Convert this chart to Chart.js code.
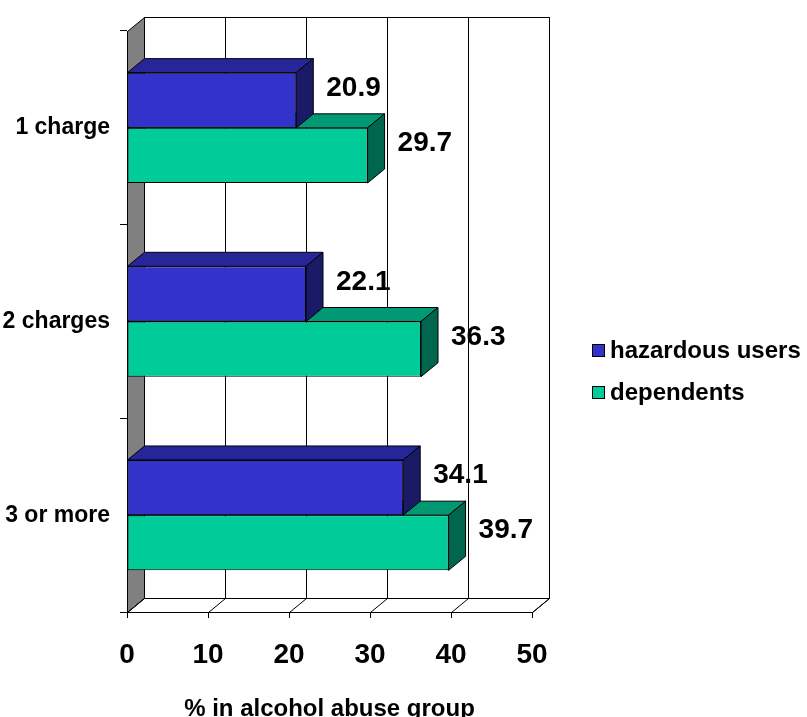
<!DOCTYPE html>
<html>
<head>
<meta charset="utf-8">
<script src="https://cdn.jsdelivr.net/npm/chart.js@4/dist/chart.umd.min.js"></script>
<style>
  html, body { margin: 0; padding: 0; background: #ffffff; }
  #wrap { width: 807px; height: 717px; }
</style>
</head>
<body>
<div id="wrap"><canvas id="chart" width="807" height="717"></canvas></div>
<script>
// Values
const categories = ['1 charge', '2 charges', '3 or more'];
const hazardousUsers = [20.9, 22.1, 34.1];
const dependents = [29.7, 36.3, 39.7];
const seriesNames = ['hazardous users', 'dependents'];
const xTickValues = [0, 10, 20, 30, 40, 50];
const axisTitle = '% in alcohol abuse group';

const FONT = "'Liberation Sans', Arial, Helvetica, sans-serif";
const DX = 17;   // depth offset to the right
const DY = 14;   // depth offset upwards

function crisp(v) { return Math.round(v) + 0.5; }

function poly(ctx, pts, fill) {
  ctx.beginPath();
  ctx.moveTo(pts[0][0], pts[0][1]);
  for (let i = 1; i < pts.length; i++) ctx.lineTo(pts[i][0], pts[i][1]);
  ctx.closePath();
  if (fill) { ctx.fillStyle = fill; ctx.fill(); }
  ctx.stroke();
}

function line(ctx, x1, y1, x2, y2) {
  ctx.beginPath();
  ctx.moveTo(x1, y1);
  ctx.lineTo(x2, y2);
  ctx.stroke();
}

// Walls, floor and back-wall gridlines of the 3D box
const boxPlugin = {
  id: 'box3d',
  beforeDatasetsDraw(chart) {
    const { ctx, chartArea: a, scales } = chart;
    const xs = scales.x;
    const L = crisp(a.left), R = crisp(a.right), T = crisp(a.top), B = crisp(a.bottom);
    ctx.save();
    ctx.lineWidth = 1;
    ctx.strokeStyle = '#000000';
    // back wall
    poly(ctx, [[L + DX, T - DY], [R + DX, T - DY], [R + DX, B - DY], [L + DX, B - DY]], '#ffffff');
    xTickValues.forEach(v => {
      const px = crisp(xs.getPixelForValue(v));
      line(ctx, px + DX, T - DY, px + DX, B - DY);
    });
    // left side wall
    poly(ctx, [[L, T], [L + DX, T - DY], [L + DX, B - DY], [L, B]], '#808080');
    // floor
    poly(ctx, [[L, B], [L + DX, B - DY], [R + DX, B - DY], [R, B]], '#ffffff');
    xTickValues.forEach(v => {
      const px = crisp(xs.getPixelForValue(v));
      line(ctx, px, B, px + DX, B - DY);
    });
    ctx.restore();
  },
  afterDatasetDraw(chart, args) {
    const { ctx } = chart;
    const ds = chart.data.datasets[args.index];
    ctx.save();
    ctx.lineWidth = 1;
    ctx.strokeStyle = '#000000';
    args.meta.data.forEach(el => {
      const p = el.getProps(['x', 'y', 'base', 'height'], true);
      const y0 = p.y - p.height / 2, y1 = p.y + p.height / 2;
      poly(ctx, [[p.base, y0], [p.base + DX, y0 - DY], [p.x + DX, y0 - DY], [p.x, y0]], ds.topColor);
      poly(ctx, [[p.x, y0], [p.x + DX, y0 - DY], [p.x + DX, y1 - DY], [p.x, y1]], ds.sideColor);
    });
    ctx.restore();
  },
  afterDatasetsDraw(chart) {
    const { ctx } = chart;
    ctx.save();
    ctx.fillStyle = '#000000';
    ctx.font = 'bold 28px ' + FONT;
    ctx.textAlign = 'left';
    ctx.textBaseline = 'middle';
    chart.data.datasets.forEach((ds, i) => {
      chart.getDatasetMeta(i).data.forEach((el, j) => {
        const p = el.getProps(['x', 'y'], true);
        ctx.fillText(ds.data[j].toFixed(1), p.x + DX + 13, p.y - DY + 2);
      });
    });
    ctx.restore();
  },
  afterDraw(chart) {
    // legend
    const { ctx, chartArea: a } = chart;
    ctx.save();
    ctx.font = 'bold 24px ' + FONT;
    ctx.textAlign = 'left';
    ctx.textBaseline = 'middle';
    ctx.lineWidth = 1;
    ctx.strokeStyle = '#000000';
    chart.data.datasets.forEach((ds, i) => {
      const sx = Math.round(a.right + 60), sy = 344 + i * 42;
      ctx.fillStyle = ds.backgroundColor;
      ctx.fillRect(sx, sy, 13, 13);
      ctx.strokeRect(sx + 0.5, sy + 0.5, 12, 12);
      ctx.fillStyle = '#000000';
      ctx.fillText(ds.label, sx + 18, sy + 7);
    });
    ctx.restore();
  }
};

new Chart(document.getElementById('chart'), {
  type: 'bar',
  data: {
    labels: categories,
    datasets: [
      {
        label: seriesNames[0],
        data: hazardousUsers,
        backgroundColor: '#3333cc',
        topColor: '#262699',
        sideColor: '#1a1a66',
        borderColor: '#000000',
        borderWidth: 1,
        borderSkipped: false
      },
      {
        label: seriesNames[1],
        data: dependents,
        backgroundColor: '#00cc99',
        topColor: '#009973',
        sideColor: '#00664d',
        borderColor: '#000000',
        borderWidth: 1,
        borderSkipped: false
      }
    ]
  },
  options: {
    indexAxis: 'y',
    responsive: false,
    animation: false,
    devicePixelRatio: 1,
    categoryPercentage: 0.57,
    barPercentage: 1.0,
    layout: { padding: { top: 31, right: 275, bottom: 0, left: 0 } },
    plugins: {
      legend: { display: false },
      tooltip: { enabled: false }
    },
    scales: {
      x: {
        type: 'linear',
        min: 0,
        max: 50,
        afterBuildTicks(scale) { scale.ticks = xTickValues.map(v => ({ value: v })); },
        afterFit(scale) { scale.height = 105; },
        grid: {
          drawOnChartArea: false,
          drawTicks: true,
          tickLength: 6,
          color: '#000000',
          lineWidth: 1
        },
        border: { display: true, color: '#000000', width: 1 },
        ticks: {
          color: '#000000',
          padding: 20,
          maxRotation: 0,
          font: { family: FONT, size: 28, weight: 'bold' }
        },
        title: {
          display: true,
          text: axisTitle,
          color: '#000000',
          padding: { top: 0, bottom: -4 },
          font: { family: FONT, size: 24, weight: 'bold', lineHeight: 1.0 }
        }
      },
      y: {
        afterFit(scale) { scale.width = 127; },
        grid: {
          offset: true,
          drawOnChartArea: false,
          drawTicks: true,
          tickLength: 7,
          color: '#000000',
          lineWidth: 1
        },
        border: { display: true, color: '#000000', width: 1 },
        ticks: {
          color: '#000000',
          padding: 10,
          font: { family: FONT, size: 23, weight: 'bold' }
        }
      }
    }
  },
  plugins: [boxPlugin]
});
</script>
</body>
</html>
